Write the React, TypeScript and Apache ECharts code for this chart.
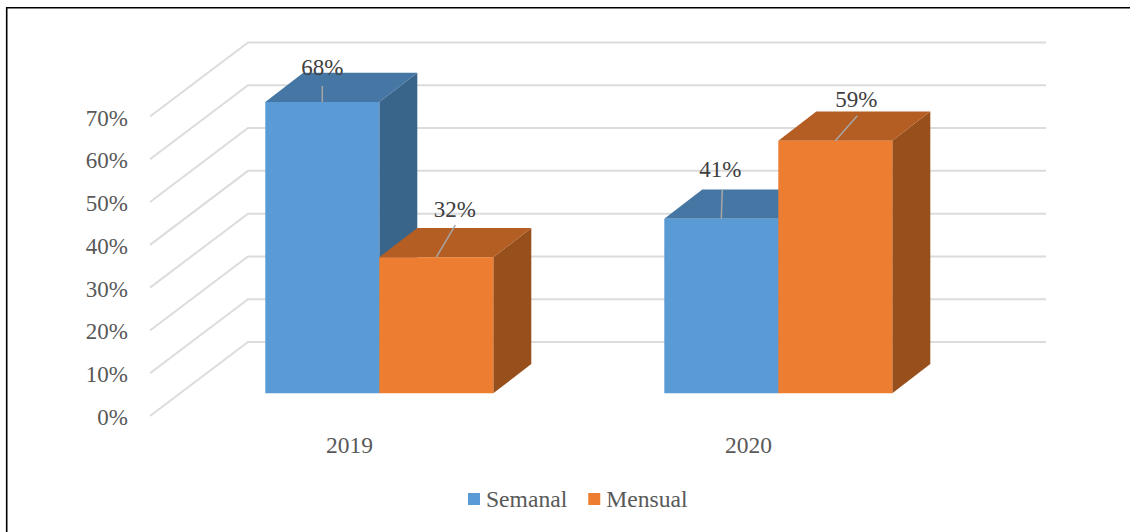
import React, { useEffect, useRef } from "react";
import * as echarts from "echarts";

const categories = ["2019", "2020"];
const semanal = [68.1, 40.8];
const mensual = [31.8, 59];
const wallTicks = [0, 10, 20, 30, 40, 50, 60, 70];

// leader-line end and label centre, relative to the middle of the bar's top front edge
const semanalLabelOffsets = [
  { end: [0, -16], text: [0, -34] },
  { end: [1, -29], text: [-1, -49] },
];
const mensualLabelOffsets = [
  { end: [19, -32], text: [18.5, -48] },
  { end: [22, -25], text: [21, -41] },
];

const FONT = "'Liberation Serif', 'Times New Roman', serif";
const WALL_DX = 98;
const WALL_DY = -74;
const FLOOR_DX = 29.8;
const FLOOR_DY = -22.7;
const BAR_W = 114;
const SIDE_DX = 38;
const SIDE_DY = -29.3;

function barSeries(
  name: string,
  values: number[],
  offsets: { end: number[]; text: number[] }[],
  leftShift: number,
  colors: { front: string; top: string; side: string },
) {
  return {
    type: "custom",
    name,
    clip: false,
    silent: true,
    itemStyle: { color: colors.front },
    encode: { x: 0, y: 1 },
    data: values.map((v, i) => [i, v]),
    renderItem: (_p: any, api: any) => {
      const idx = api.value(0);
      const val = api.value(1);
      const base = api.coord([idx, 0]);
      const topPt = api.coord([idx, val]);
      const x0 = base[0] + FLOOR_DX + leftShift;
      const x1 = x0 + BAR_W;
      const yb = base[1] + FLOOR_DY;
      const yt = topPt[1] + FLOOR_DY;
      const mid = (x0 + x1) / 2;
      const off = offsets[idx];
      return {
        type: "group",
        children: [
          {
            type: "polygon",
            shape: { points: [[x1, yb], [x1 + SIDE_DX, yb + SIDE_DY], [x1 + SIDE_DX, yt + SIDE_DY], [x1, yt]] },
            style: { fill: colors.side },
          },
          {
            type: "polygon",
            shape: { points: [[x0, yt], [x1, yt], [x1 + SIDE_DX, yt + SIDE_DY], [x0 + SIDE_DX, yt + SIDE_DY]] },
            style: { fill: colors.top },
          },
          {
            type: "rect",
            shape: { x: x0, y: yt, width: BAR_W, height: yb - yt },
            style: { fill: colors.front },
          },
          {
            type: "line",
            shape: { x1: mid, y1: yt, x2: mid + off.end[0], y2: yt + off.end[1] },
            style: { stroke: "#A6A6A6", lineWidth: 1.5 },
          },
          {
            type: "text",
            x: mid + off.text[0],
            y: yt + off.text[1],
            style: {
              text: `${Math.round(val)}%`,
              fill: "#404040",
              font: `23px ${FONT}`,
              align: "center",
              verticalAlign: "middle",
            },
          },
        ],
      };
    },
  };
}

export default function App() {
  const ref = useRef<HTMLDivElement>(null);

  useEffect(() => {
    const chart = echarts.init(ref.current!, undefined, { renderer: "svg" });
    chart.setOption({
      animation: false,
      backgroundColor: "#FFFFFF",
      textStyle: { fontFamily: FONT },
      grid: { left: 150, top: 116.5, width: 798, height: 299.5 },
      xAxis: {
        type: "category",
        data: categories,
        axisLine: { show: false },
        axisTick: { show: false },
        splitLine: { show: false },
        axisLabel: { color: "#595959", fontSize: 23.5, fontFamily: FONT, margin: 17 },
      },
      yAxis: {
        type: "value",
        min: 0,
        max: 70,
        interval: 10,
        axisLine: { show: false },
        axisTick: { show: false },
        splitLine: { show: false },
        axisLabel: {
          color: "#595959",
          fontSize: 23,
          fontFamily: FONT,
          margin: 22,
          verticalAlign: "top",
          lineHeight: 3,
          formatter: "{value}%",
        },
      },
      legend: {
        left: 463,
        top: 482,
        data: ["Semanal", "Mensual"],
        icon: "rect",
        itemWidth: 12,
        itemHeight: 12,
        itemGap: 21,
        selectedMode: false,
        textStyle: { color: "#595959", fontSize: 23.6, fontFamily: FONT, padding: [0, 0, 0, 1] },
      },
      graphic: [
        {
          type: "rect",
          silent: true,
          shape: { x: 6.7, y: 7.7, width: 1140, height: 540 },
          style: { fill: "none", stroke: "#000000", lineWidth: 1.6 },
        },
      ],
      series: [
        {
          type: "custom",
          name: "wall",
          clip: false,
          silent: true,
          encode: { y: 0 },
          data: wallTicks.map((t) => [t]),
          renderItem: (params: any, api: any) => {
            const cs = params.coordSys;
            const y = api.coord([0, api.value(0)])[1];
            return {
              type: "polyline",
              shape: {
                points: [
                  [cs.x, y],
                  [cs.x + WALL_DX, y + WALL_DY],
                  [cs.x + cs.width + WALL_DX, y + WALL_DY],
                ],
              },
              style: { fill: "none", stroke: "#DCDCDC", lineWidth: 2 },
            };
          },
        },
        barSeries("Semanal", semanal, semanalLabelOffsets, -BAR_W, { front: "#5B9BD5", top: "#4676A3", side: "#3A658B" }),
        barSeries("Mensual", mensual, mensualLabelOffsets, 0, { front: "#ED7D31", top: "#B55E23", side: "#974F1C" }),
      ],
    });
    return () => chart.dispose();
  }, []);

  return <div ref={ref} style={{ position: "absolute", left: 0, top: 0, width: 1130, height: 532 }} />;
}
